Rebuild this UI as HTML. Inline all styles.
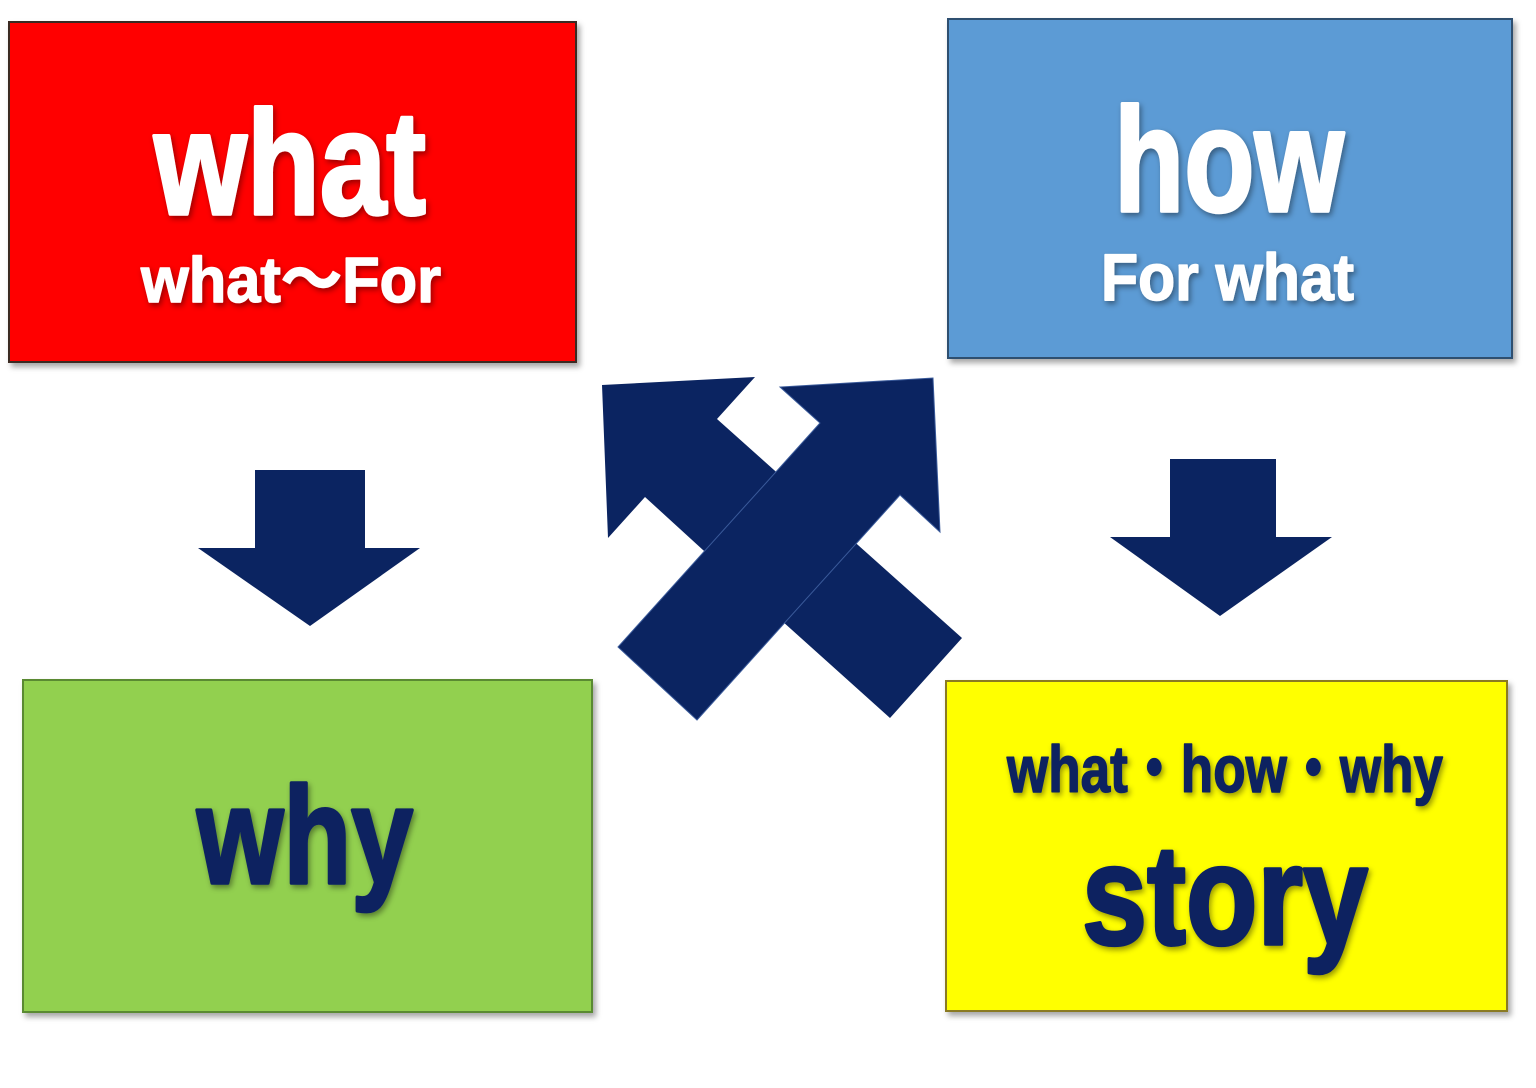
<!DOCTYPE html>
<html><head><style>
html,body{margin:0;padding:0;background:#fff;}
svg{display:block;}
text{font-family:"Liberation Sans","Noto Sans CJK JP",sans-serif;font-weight:bold;stroke-linejoin:round;}
</style></head><body>
<svg width="1536" height="1088" viewBox="0 0 1536 1088" xmlns="http://www.w3.org/2000/svg">
<defs>
<filter id="sh" x="-10%" y="-10%" width="120%" height="120%"><feDropShadow dx="3" dy="4" stdDeviation="3" flood-color="#000" flood-opacity="0.35"/></filter>
<filter id="gl" x="-10%" y="-10%" width="120%" height="130%"><feDropShadow dx="2" dy="3" stdDeviation="3" flood-color="#000" flood-opacity="0.4"/></filter>
</defs>
<rect x="9" y="22" width="567" height="340" fill="#ff0000" stroke="#3a2a20" stroke-width="2" filter="url(#sh)"/>
<rect x="948" y="19" width="564" height="339" fill="#5b9bd5" stroke="#2e4f70" stroke-width="2" filter="url(#sh)"/>
<rect x="23" y="680" width="569" height="332" fill="#92d050" stroke="#5a8a30" stroke-width="2" filter="url(#sh)"/>
<rect x="946" y="681" width="561" height="330" fill="#ffff00" stroke="#8a7a20" stroke-width="2" filter="url(#sh)"/>

<g filter="url(#gl)">
<text x="154" y="214" font-size="148" fill="#fff" stroke="#fff" stroke-width="3.5" textLength="272" lengthAdjust="spacingAndGlyphs">what</text>
<text x="141" y="302" font-size="64" fill="#fff" stroke="#fff" stroke-width="1.5" textLength="300" lengthAdjust="spacingAndGlyphs">what～For</text>
<text x="1114" y="211" font-size="148" fill="#fff" stroke="#fff" stroke-width="3.5" textLength="230" lengthAdjust="spacingAndGlyphs">how</text>
<text x="1101" y="300" font-size="66" fill="#fff" stroke="#fff" stroke-width="1.5" textLength="253" lengthAdjust="spacingAndGlyphs">For what</text>
<text x="197" y="883" font-size="138" fill="#0b2461" stroke="#0b2461" stroke-width="3.5" textLength="216" lengthAdjust="spacingAndGlyphs">why</text>
<text x="1007" y="792" font-size="66" fill="#0b2461" stroke="#0b2461" stroke-width="1.5" textLength="436" lengthAdjust="spacingAndGlyphs">what・how・why</text>
<text x="1082" y="944" font-size="142" fill="#0b2461" stroke="#0b2461" stroke-width="3.5" textLength="286" lengthAdjust="spacingAndGlyphs">story</text>
</g>

<polygon points="255,470 365,470 365,548 420,548 310,626 198,548 255,548" fill="#0b2461"/>
<polygon points="1170,459 1276,459 1276,537 1332,537 1220,616 1110,537 1170,537" fill="#0b2461"/>

<polygon points="602,385 755,377 717,419 962,638 890,718 703,550 645,497 608,538" fill="#0b2461"/>
<polygon points="933,378 940,532 900,495 697,720 618,647 820,423 780,387" fill="#0b2461" stroke="#3a5a9a" stroke-width="1"/>
</svg>
</body></html>
